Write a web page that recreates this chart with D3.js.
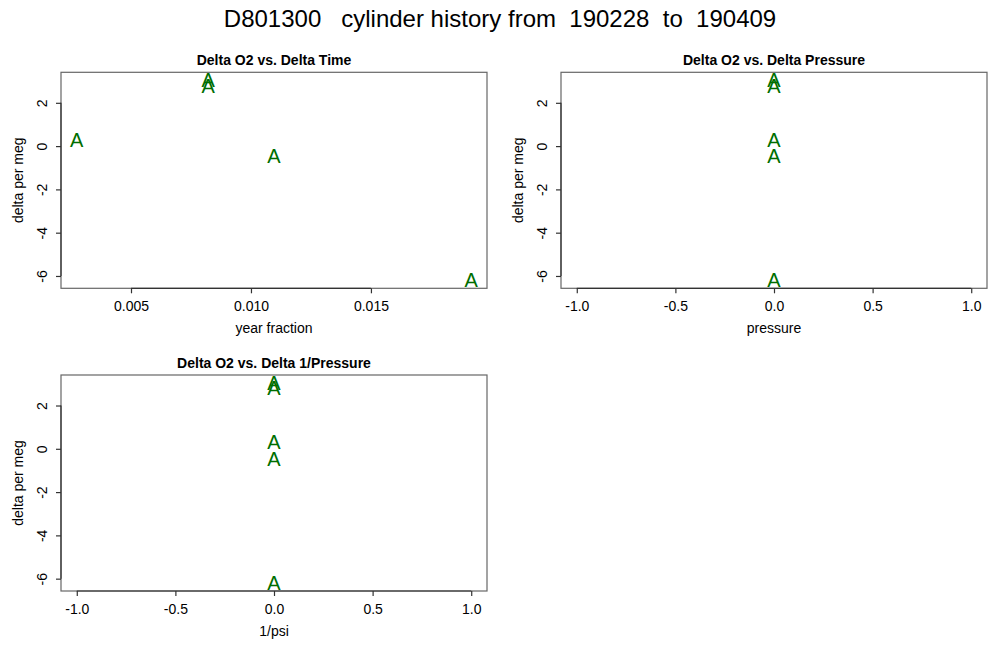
<!DOCTYPE html>
<html>
<head>
<meta charset="utf-8">
<script src="https://cdn.jsdelivr.net/npm/d3@7"></script>
<style>
  body { margin: 0; background: #fff; }
  text { font-family: "Liberation Sans", Arial, Helvetica, sans-serif; }
  .main { white-space: pre; }
</style>
</head>
<body>
<svg width="1000" height="670"></svg>
<script>
// cylinder deltas, one entry per run
const yearFraction = [0.00274, 0.00822, 0.00822, 0.01096, 0.01918];
const deltaPerMeg = [0.31, 3.04, 2.80, -0.46, -6.20];
const deltaPressure = [0, 0, 0, 0, 0];
const deltaInvPressure = [0, 0, 0, 0, 0];

// tick values
const timeTicks = [0.005, 0.010, 0.015];
const unitTicks = [-1.0, -0.5, 0.0, 0.5, 1.0];
const megTicks = [-6, -4, -2, 0, 2];

const mainTitle = "D801300   cylinder history from  190228  to  190409";

const svg = d3.select("svg");

// R style axis range: data range plus 4% on each side, +-1 when flat
function rRange(arr) {
    let lo = d3.min(arr), hi = d3.max(arr);
    if (lo === hi) { lo -= 1; hi += 1; }
    const pad = (hi - lo) * 0.04;
    return [lo - pad, hi + pad];
}

const minus = s => s.replace("\u2212", "-");

svg.append("text")
    .attr("class", "main")
    .attr("x", 500)
    .attr("y", 27)
    .attr("text-anchor", "middle")
    .attr("font-size", "24px")
    .attr("fill", "#000")
    .text(mainTitle);

function panel(opts) {
    const { left, top, width, height, xs, ys, xTicks, xFmt, title, xLabel } = opts;
    const g = svg.append("g");

    const x = d3.scaleLinear().domain(rRange(xs)).range([left, left + width]);
    const y = d3.scaleLinear().domain(rRange(ys)).range([top + height, top]);

    // box
    g.append("rect")
        .attr("x", left).attr("y", top)
        .attr("width", width).attr("height", height)
        .attr("fill", "none")
        .attr("stroke", "#666")
        .attr("stroke-width", 1.2);

    // x axis
    const xAxis = d3.axisBottom(x)
        .tickValues(xTicks)
        .tickSize(5)
        .tickPadding(8)
        .tickFormat(d => minus(d3.format(xFmt)(d)));
    const gx = g.append("g")
        .attr("transform", `translate(0,${top + height})`)
        .call(xAxis);
    gx.select(".domain").remove();
    gx.append("line")
        .attr("x1", x(xTicks[0])).attr("x2", x(xTicks[xTicks.length - 1]))
        .attr("stroke", "#333").attr("stroke-width", 1.2);
    gx.selectAll(".tick line").attr("stroke", "#333").attr("stroke-width", 1.2);
    gx.selectAll(".tick text")
        .attr("font-size", "14px")
        .attr("font-family", "Liberation Sans, Arial, sans-serif")
        .attr("fill", "#000");

    // y axis
    const yAxis = d3.axisLeft(y)
        .tickValues(megTicks)
        .tickSize(5)
        .tickFormat(d => minus(d3.format("d")(d)));
    const gy = g.append("g")
        .attr("transform", `translate(${left},0)`)
        .call(yAxis);
    gy.select(".domain").remove();
    gy.append("line")
        .attr("y1", y(megTicks[0])).attr("y2", y(megTicks[megTicks.length - 1]))
        .attr("stroke", "#333").attr("stroke-width", 1.2);
    gy.selectAll(".tick line").attr("stroke", "#333").attr("stroke-width", 1.2);
    gy.selectAll(".tick text")
        .attr("x", null).attr("dy", null)
        .attr("text-anchor", "middle")
        .attr("transform", "translate(-14,0) rotate(-90)")
        .attr("font-size", "14px")
        .attr("font-family", "Liberation Sans, Arial, sans-serif")
        .attr("fill", "#000");

    // titles and labels
    g.append("text")
        .attr("x", left + width / 2)
        .attr("y", top - 7)
        .attr("text-anchor", "middle")
        .attr("font-size", "14px")
        .attr("font-weight", "bold")
        .text(title);

    g.append("text")
        .attr("x", left + width / 2)
        .attr("y", top + height + 45)
        .attr("text-anchor", "middle")
        .attr("font-size", "14px")
        .text(xLabel);

    g.append("text")
        .attr("transform", `translate(${left - 38},${top + height / 2}) rotate(-90)`)
        .attr("text-anchor", "middle")
        .attr("font-size", "14px")
        .text("delta per meg");

    // points plotted as the letter A
    const fs = 20;
    g.selectAll(".pt")
        .data(xs.map((v, i) => [v, ys[i]]))
        .join("text")
        .attr("class", "pt")
        .attr("x", d => x(d[0]))
        .attr("y", d => y(d[1]) + fs * 0.358)
        .attr("text-anchor", "middle")
        .attr("font-size", fs + "px")
        .attr("fill", "#006e00")
        .text("A");
}

panel({
    left: 61, top: 72.3, width: 426, height: 216,
    xs: yearFraction, ys: deltaPerMeg, xTicks: timeTicks, xFmt: ".3f",
    title: "Delta O2 vs. Delta Time", xLabel: "year fraction"
});

panel({
    left: 561, top: 72.3, width: 426, height: 216,
    xs: deltaPressure, ys: deltaPerMeg, xTicks: unitTicks, xFmt: ".1f",
    title: "Delta O2 vs. Delta Pressure", xLabel: "pressure"
});

panel({
    left: 61, top: 375, width: 426, height: 216,
    xs: deltaInvPressure, ys: deltaPerMeg, xTicks: unitTicks, xFmt: ".1f",
    title: "Delta O2 vs. Delta 1/Pressure", xLabel: "1/psi"
});
</script>
</body>
</html>
